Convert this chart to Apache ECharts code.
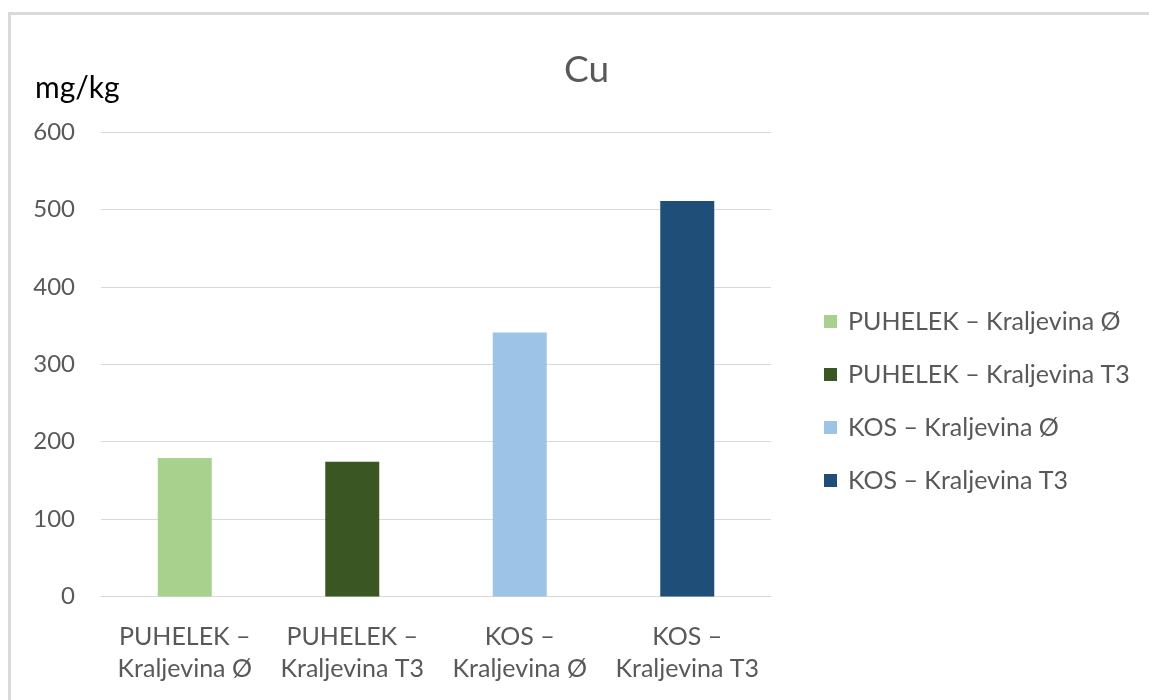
<!DOCTYPE html>
<html>
<head>
<meta charset="utf-8">
<title>Cu</title>
<script src="https://cdn.jsdelivr.net/npm/echarts@6/dist/echarts.min.js"></script>
<style>
  html, body { margin: 0; padding: 0; background: #fff; }
  #chart { width: 1149px; height: 700px; }
</style>
</head>
<body>
<div id="chart"></div>
<script>
const categories = [
  'PUHELEK –\nKraljevina Ø',
  'PUHELEK –\nKraljevina T3',
  'KOS –\nKraljevina Ø',
  'KOS –\nKraljevina T3'
];
const seriesNames = [
  'PUHELEK – Kraljevina Ø',
  'PUHELEK – Kraljevina T3',
  'KOS – Kraljevina Ø',
  'KOS – Kraljevina T3'
];
const values = [179, 174, 341, 511];
const colors = ['#a9d18e', '#3a5623', '#9dc3e6', '#1f4e79'];

const font = 'Lato, "Open Sans", sans-serif';
const grey = '#595959';

const chart = echarts.init(document.getElementById('chart'));

// one series per bar so the legend lists each of them
const series = seriesNames.map((name, i) => ({
  name: name,
  type: 'bar',
  stack: 'one',
  barWidth: 54,
  itemStyle: { color: colors[i] },
  data: categories.map((c, j) => (j === i ? values[i] : '-'))
}));

chart.setOption({
  animation: false,
  textStyle: { fontFamily: font },
  title: [
    {
      text: 'Cu',
      left: 559,
      top: 47,
      textStyle: { fontFamily: font, fontSize: 37, fontWeight: 'normal', color: grey }
    },
    {
      text: 'mg/kg',
      left: 30,
      top: 68,
      textStyle: { fontFamily: font, fontSize: 30, fontWeight: 'normal', color: '#000' }
    }
  ],
  graphic: [
    {
      type: 'rect',
      silent: true,
      shape: { x: 9.5, y: 13.5, width: 1200, height: 800 },
      style: { fill: 'none', stroke: '#d9d9d9', lineWidth: 3 }
    }
  ],
  legend: {
    orient: 'vertical',
    left: 819,
    top: 304,
    itemWidth: 13,
    itemHeight: 13,
    itemGap: 28,
    icon: 'rect',
    textStyle: { fontFamily: font, fontSize: 25, color: grey, lineHeight: 24, padding: [0, 0, 0, 6] },
    data: seriesNames
  },
  grid: {
    left: 101,
    right: 378,
    top: 132,
    bottom: 103.5
  },
  xAxis: {
    type: 'category',
    data: categories,
    axisLine: { lineStyle: { color: '#d9d9d9', width: 1 } },
    axisTick: { show: false },
    axisLabel: {
      fontFamily: font,
      fontSize: 25,
      lineHeight: 32,
      color: grey,
      margin: 24,
      interval: 0
    }
  },
  yAxis: {
    type: 'value',
    min: 0,
    max: 600,
    interval: 100,
    axisLine: { show: false },
    axisTick: { show: false },
    splitLine: { lineStyle: { color: '#d9d9d9', width: 1 } },
    axisLabel: { fontFamily: font, fontSize: 24, color: grey, margin: 26 }
  },
  series: series
});
</script>
</body>
</html>
